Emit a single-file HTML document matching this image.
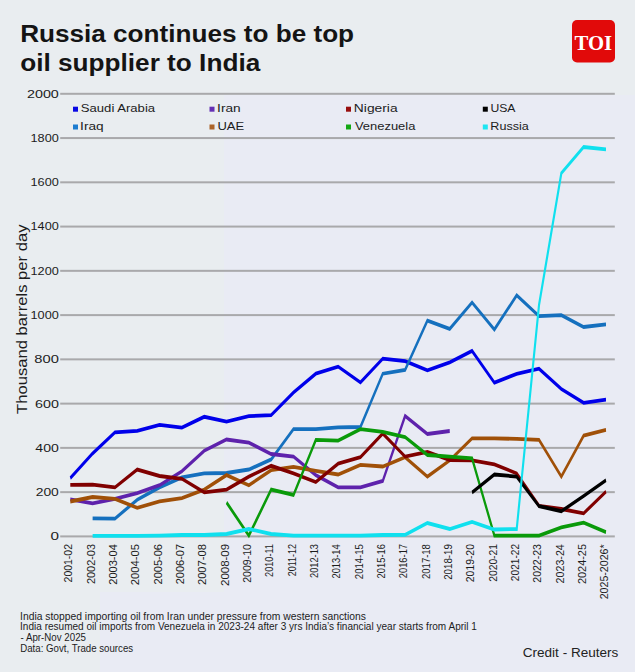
<!DOCTYPE html><html><head><meta charset="utf-8"><style>html,body{margin:0;padding:0;background:#e9edf0;}body{width:635px;height:672px;overflow:hidden;position:relative;font-family:"Liberation Sans",sans-serif;}svg{position:absolute;left:0;top:0;display:block}</style></head><body>
<svg width="635" height="672" viewBox="0 0 635 672" font-family="'Liberation Sans',sans-serif">
<rect x="0" y="0" width="635" height="672" fill="#e9ebf4"/>
<path d="M0,0H635V95H224V592H100V672H0Z" fill="#e9edf0"/>
<text x="20.15" y="41.70" font-family="'Liberation Sans',sans-serif" font-size="23.50" font-weight="bold" fill="#141414" textLength="333.92" lengthAdjust="spacingAndGlyphs">Russia continues to be top</text>
<text x="20.18" y="70.60" font-family="'Liberation Sans',sans-serif" font-size="23.50" font-weight="bold" fill="#141414" textLength="240.06" lengthAdjust="spacingAndGlyphs">oil supplier to India</text>
<rect x="572" y="20" width="43" height="42.5" rx="5" fill="#e10a0a"/>
<text x="574.48" y="49.50" font-family="'Liberation Serif',serif" font-size="22.00" font-weight="bold" fill="#ffffff" textLength="37.61" lengthAdjust="spacingAndGlyphs">TOI</text>
<rect x="60.2" y="535.40" width="554.6" height="2" fill="#a9a9ab"/>
<text x="50.40" y="540.30" font-family="'Liberation Sans',sans-serif" font-size="11.00" fill="#1c1c1c" textLength="8.49" lengthAdjust="spacingAndGlyphs">0</text>
<rect x="60.2" y="491.14" width="554.6" height="2" fill="#a9a9ab"/>
<text x="35.70" y="496.04" font-family="'Liberation Sans',sans-serif" font-size="11.00" fill="#1c1c1c" textLength="23.14" lengthAdjust="spacingAndGlyphs">200</text>
<rect x="60.2" y="446.88" width="554.6" height="2" fill="#a9a9ab"/>
<text x="35.38" y="451.78" font-family="'Liberation Sans',sans-serif" font-size="11.00" fill="#1c1c1c" textLength="23.47" lengthAdjust="spacingAndGlyphs">400</text>
<rect x="60.2" y="402.62" width="554.6" height="2" fill="#a9a9ab"/>
<text x="34.97" y="407.52" font-family="'Liberation Sans',sans-serif" font-size="11.00" fill="#1c1c1c" textLength="23.89" lengthAdjust="spacingAndGlyphs">600</text>
<rect x="60.2" y="358.36" width="554.6" height="2" fill="#a9a9ab"/>
<text x="34.36" y="363.26" font-family="'Liberation Sans',sans-serif" font-size="11.00" fill="#1c1c1c" textLength="24.51" lengthAdjust="spacingAndGlyphs">800</text>
<rect x="60.2" y="314.10" width="554.6" height="2" fill="#a9a9ab"/>
<text x="30.53" y="319.00" font-family="'Liberation Sans',sans-serif" font-size="11.00" fill="#1c1c1c" textLength="28.26" lengthAdjust="spacingAndGlyphs">1000</text>
<rect x="60.2" y="269.84" width="554.6" height="2" fill="#a9a9ab"/>
<text x="30.53" y="274.74" font-family="'Liberation Sans',sans-serif" font-size="11.00" fill="#1c1c1c" textLength="28.26" lengthAdjust="spacingAndGlyphs">1200</text>
<rect x="60.2" y="225.58" width="554.6" height="2" fill="#a9a9ab"/>
<text x="30.53" y="230.48" font-family="'Liberation Sans',sans-serif" font-size="11.00" fill="#1c1c1c" textLength="28.26" lengthAdjust="spacingAndGlyphs">1400</text>
<rect x="60.2" y="181.32" width="554.6" height="2" fill="#a9a9ab"/>
<text x="30.53" y="186.22" font-family="'Liberation Sans',sans-serif" font-size="11.00" fill="#1c1c1c" textLength="28.26" lengthAdjust="spacingAndGlyphs">1600</text>
<rect x="60.2" y="137.06" width="554.6" height="2" fill="#a9a9ab"/>
<text x="30.53" y="141.96" font-family="'Liberation Sans',sans-serif" font-size="11.00" fill="#1c1c1c" textLength="28.26" lengthAdjust="spacingAndGlyphs">1800</text>
<rect x="60.2" y="92.80" width="554.6" height="2" fill="#a9a9ab"/>
<text x="26.98" y="97.70" font-family="'Liberation Sans',sans-serif" font-size="11.00" fill="#1c1c1c" textLength="31.88" lengthAdjust="spacingAndGlyphs">2000</text>
<text transform="translate(27.10,413.97) rotate(-90)" x="0" y="0" font-size="14.70" fill="#1c1c1c" textLength="189.51" lengthAdjust="spacingAndGlyphs">Thousand barrels per day</text>
<rect x="73.0" y="106.7" width="5" height="5" fill="#0808e4"/>
<text x="80.81" y="111.75" font-family="'Liberation Sans',sans-serif" font-size="11.20" fill="#1c1c1c" textLength="74.29" lengthAdjust="spacingAndGlyphs">Saudi Arabia</text>
<rect x="209.5" y="106.7" width="5" height="5" fill="#6430b4"/>
<text x="217.14" y="111.75" font-family="'Liberation Sans',sans-serif" font-size="11.20" fill="#1c1c1c" textLength="23.55" lengthAdjust="spacingAndGlyphs">Iran</text>
<rect x="346.0" y="106.7" width="5" height="5" fill="#980e0e"/>
<text x="353.87" y="111.75" font-family="'Liberation Sans',sans-serif" font-size="11.20" fill="#1c1c1c" textLength="43.73" lengthAdjust="spacingAndGlyphs">Nigeria</text>
<rect x="482.8" y="106.7" width="5" height="5" fill="#000000"/>
<text x="490.46" y="111.75" font-family="'Liberation Sans',sans-serif" font-size="11.20" fill="#1c1c1c" textLength="25.06" lengthAdjust="spacingAndGlyphs">USA</text>
<rect x="73.0" y="124.5" width="5" height="5" fill="#1c7cd0"/>
<text x="80.14" y="129.60" font-family="'Liberation Sans',sans-serif" font-size="11.20" fill="#1c1c1c" textLength="23.53" lengthAdjust="spacingAndGlyphs">Iraq</text>
<rect x="209.5" y="124.5" width="5" height="5" fill="#ac6428"/>
<text x="217.40" y="129.60" font-family="'Liberation Sans',sans-serif" font-size="11.20" fill="#1c1c1c" textLength="26.76" lengthAdjust="spacingAndGlyphs">UAE</text>
<rect x="346.0" y="124.5" width="5" height="5" fill="#14a814"/>
<text x="354.94" y="129.60" font-family="'Liberation Sans',sans-serif" font-size="11.20" fill="#1c1c1c" textLength="60.46" lengthAdjust="spacingAndGlyphs">Venezuela</text>
<rect x="482.8" y="124.5" width="5" height="5" fill="#1ee6f2"/>
<text x="490.37" y="129.60" font-family="'Liberation Sans',sans-serif" font-size="11.20" fill="#1c1c1c" textLength="38.43" lengthAdjust="spacingAndGlyphs">Russia</text>
<text transform="translate(72.45,582.43) rotate(-90)" x="0" y="0" font-size="11.00" fill="#1c1c1c" textLength="38.45" lengthAdjust="spacingAndGlyphs">2001-02</text>
<text transform="translate(94.78,584.01) rotate(-90)" x="0" y="0" font-size="11.00" fill="#1c1c1c" textLength="39.99" lengthAdjust="spacingAndGlyphs">2002-03</text>
<text transform="translate(117.11,584.69) rotate(-90)" x="0" y="0" font-size="11.00" fill="#1c1c1c" textLength="40.51" lengthAdjust="spacingAndGlyphs">2003-04</text>
<text transform="translate(139.44,585.28) rotate(-90)" x="0" y="0" font-size="11.00" fill="#1c1c1c" textLength="41.25" lengthAdjust="spacingAndGlyphs">2004-05</text>
<text transform="translate(161.77,584.50) rotate(-90)" x="0" y="0" font-size="11.00" fill="#1c1c1c" textLength="40.49" lengthAdjust="spacingAndGlyphs">2005-06</text>
<text transform="translate(184.10,584.27) rotate(-90)" x="0" y="0" font-size="11.00" fill="#1c1c1c" textLength="40.33" lengthAdjust="spacingAndGlyphs">2006-07</text>
<text transform="translate(206.43,585.07) rotate(-90)" x="0" y="0" font-size="11.00" fill="#1c1c1c" textLength="41.06" lengthAdjust="spacingAndGlyphs">2007-08</text>
<text transform="translate(228.76,585.94) rotate(-90)" x="0" y="0" font-size="11.00" fill="#1c1c1c" textLength="41.98" lengthAdjust="spacingAndGlyphs">2008-09</text>
<text transform="translate(251.09,582.81) rotate(-90)" x="0" y="0" font-size="11.00" fill="#1c1c1c" textLength="38.72" lengthAdjust="spacingAndGlyphs">2009-10</text>
<text transform="translate(273.42,576.95) rotate(-90)" x="0" y="0" font-size="11.00" fill="#1c1c1c" textLength="32.89" lengthAdjust="spacingAndGlyphs">2010-11</text>
<text transform="translate(295.75,576.30) rotate(-90)" x="0" y="0" font-size="11.00" fill="#1c1c1c" textLength="32.24" lengthAdjust="spacingAndGlyphs">2011-12</text>
<text transform="translate(318.08,577.88) rotate(-90)" x="0" y="0" font-size="11.00" fill="#1c1c1c" textLength="33.79" lengthAdjust="spacingAndGlyphs">2012-13</text>
<text transform="translate(340.41,578.56) rotate(-90)" x="0" y="0" font-size="11.00" fill="#1c1c1c" textLength="34.33" lengthAdjust="spacingAndGlyphs">2013-14</text>
<text transform="translate(362.74,579.15) rotate(-90)" x="0" y="0" font-size="11.00" fill="#1c1c1c" textLength="35.05" lengthAdjust="spacingAndGlyphs">2014-15</text>
<text transform="translate(385.07,578.38) rotate(-90)" x="0" y="0" font-size="11.00" fill="#1c1c1c" textLength="34.29" lengthAdjust="spacingAndGlyphs">2015-16</text>
<text transform="translate(407.40,578.15) rotate(-90)" x="0" y="0" font-size="11.00" fill="#1c1c1c" textLength="34.12" lengthAdjust="spacingAndGlyphs">2016-17</text>
<text transform="translate(429.73,578.95) rotate(-90)" x="0" y="0" font-size="11.00" fill="#1c1c1c" textLength="34.86" lengthAdjust="spacingAndGlyphs">2017-18</text>
<text transform="translate(452.06,579.81) rotate(-90)" x="0" y="0" font-size="11.00" fill="#1c1c1c" textLength="35.77" lengthAdjust="spacingAndGlyphs">2018-19</text>
<text transform="translate(474.39,582.16) rotate(-90)" x="0" y="0" font-size="11.00" fill="#1c1c1c" textLength="38.07" lengthAdjust="spacingAndGlyphs">2019-20</text>
<text transform="translate(496.72,581.78) rotate(-90)" x="0" y="0" font-size="11.00" fill="#1c1c1c" textLength="37.78" lengthAdjust="spacingAndGlyphs">2020-21</text>
<text transform="translate(519.05,581.13) rotate(-90)" x="0" y="0" font-size="11.00" fill="#1c1c1c" textLength="37.14" lengthAdjust="spacingAndGlyphs">2021-22</text>
<text transform="translate(541.38,582.71) rotate(-90)" x="0" y="0" font-size="11.00" fill="#1c1c1c" textLength="38.67" lengthAdjust="spacingAndGlyphs">2022-23</text>
<text transform="translate(563.71,583.39) rotate(-90)" x="0" y="0" font-size="11.00" fill="#1c1c1c" textLength="39.20" lengthAdjust="spacingAndGlyphs">2023-24</text>
<text transform="translate(586.04,583.98) rotate(-90)" x="0" y="0" font-size="11.00" fill="#1c1c1c" textLength="39.93" lengthAdjust="spacingAndGlyphs">2024-25</text>
<text transform="translate(608.37,599.33) rotate(-90)" x="0" y="0" font-size="11.00" fill="#1c1c1c" textLength="55.00" lengthAdjust="spacingAndGlyphs">2025-2026*</text>
<g transform="scale(0.55556,1)">
<path d="M126.54,478.10 L166.72,453.50 L206.89,432.40 L247.07,430.90 L287.24,424.80 L327.42,427.60 L367.60,416.80 L407.77,421.60 L447.95,416.20 L488.12,415.20 L528.30,392.50 L568.48,373.70 L608.65,366.60 L648.83,382.40 L689.00,358.60 L729.18,361.20 L769.36,370.30 L809.53,362.30 L849.71,350.90 L889.88,382.70 L930.06,373.80 L970.24,368.70 L1010.41,389.00 L1050.59,402.90 L1090.76,399.60" fill="none" stroke="#0000ea" stroke-width="3.80" stroke-linejoin="miter" stroke-linecap="butt"/>
<path d="M166.72,518.30 L206.89,518.70 L247.07,499.70 L287.24,487.40 L327.42,477.30 L367.60,473.40 L407.77,473.00 L447.95,469.50 L488.12,459.40 L528.30,429.10 L568.48,429.10 L608.65,427.30 L648.83,427.00 L689.00,373.70 L729.18,369.90 L769.36,320.60 L809.53,328.90 L849.71,302.50 L889.88,329.50 L930.06,295.30 L970.24,316.10 L1010.41,315.10 L1050.59,327.00 L1090.76,324.40" fill="none" stroke="#1570be" stroke-width="3.80" stroke-linejoin="miter" stroke-linecap="butt"/>
<path d="M126.54,499.30 L166.72,503.30 L206.89,498.80 L247.07,493.20 L287.24,485.20 L327.42,471.20 L367.60,450.70 L407.77,439.50 L447.95,442.70 L488.12,454.00 L528.30,456.60 L568.48,475.10 L608.65,487.40 L648.83,487.40 L689.00,481.00 L729.18,416.00 L769.36,434.00 L809.53,431.00" fill="none" stroke="#5e22ac" stroke-width="3.80" stroke-linejoin="miter" stroke-linecap="butt"/>
<path d="M126.54,501.50 L166.72,497.00 L206.89,498.80 L247.07,507.90 L287.24,501.40 L327.42,498.20 L367.60,489.60 L407.77,475.10 L447.95,485.30 L488.12,470.10 L528.30,466.90 L568.48,470.80 L608.65,474.50 L648.83,464.80 L689.00,466.50 L729.18,457.20 L769.36,476.60 L809.53,460.40 L849.71,438.40 L889.88,438.40 L930.06,438.90 L970.24,439.90 L1010.41,476.60 L1050.59,435.60 L1090.76,429.80" fill="none" stroke="#a05008" stroke-width="3.80" stroke-linejoin="miter" stroke-linecap="butt"/>
<path d="M126.54,484.80 L166.72,484.60 L206.89,487.40 L247.07,469.50 L287.24,476.00 L327.42,478.80 L367.60,492.40 L407.77,489.60 L447.95,476.60 L488.12,465.80 L528.30,473.40 L568.48,482.00 L608.65,463.70 L648.83,457.20 L689.00,433.50 L729.18,456.60 L769.36,451.80 L809.53,460.00 L849.71,460.40 L889.88,464.30 L930.06,473.40 L970.24,505.80 L1010.41,509.00 L1050.59,513.30 L1090.76,491.70" fill="none" stroke="#800000" stroke-width="3.80" stroke-linejoin="miter" stroke-linecap="butt"/>
<path d="M407.77,502.50 L447.95,535.60 L488.12,489.60 L528.30,495.00 L568.48,439.90 L608.65,440.60 L648.83,429.10 L689.00,431.80 L729.18,437.10 L769.36,455.00 L809.53,456.60 L849.71,458.30 L889.88,535.60 L930.06,535.60 L970.24,535.60 L1010.41,527.30 L1050.59,522.60 L1090.76,532.10" fill="none" stroke="#0a9a0a" stroke-width="3.80" stroke-linejoin="miter" stroke-linecap="butt"/>
<path d="M849.71,492.40 L889.88,474.50 L930.06,476.60 L970.24,506.20 L1010.41,511.20 L1050.59,496.00 L1090.76,480.30" fill="none" stroke="#000000" stroke-width="3.80" stroke-linejoin="miter" stroke-linecap="butt"/>
<path d="M166.72,535.80 L206.89,535.80 L247.07,535.80 L287.24,535.60 L327.42,535.00 L367.60,535.00 L407.77,534.00 L447.95,529.00 L488.12,534.00 L528.30,535.60 L568.48,535.60 L608.65,535.60 L648.83,535.60 L689.00,535.00 L729.18,534.90 L769.36,523.00 L809.53,529.00 L849.71,522.00 L889.88,529.50 L930.06,529.00 L970.24,305.00 L1010.41,173.10 L1050.59,147.00 L1090.76,149.30" fill="none" stroke="#10e0ee" stroke-width="3.80" stroke-linejoin="miter" stroke-linecap="butt"/>
</g>
<text x="20.05" y="620.00" font-family="'Liberation Sans',sans-serif" font-size="10.30" fill="#1c1c1c" textLength="345.83" lengthAdjust="spacingAndGlyphs">India stopped importing oil from Iran under pressure from western sanctions</text>
<text x="20.08" y="630.10" font-family="'Liberation Sans',sans-serif" font-size="10.30" fill="#1c1c1c" textLength="456.81" lengthAdjust="spacingAndGlyphs">India resumed oil imports from Venezuela in 2023-24 after 3 yrs India’s financial year starts from April 1</text>
<text x="20.57" y="640.90" font-family="'Liberation Sans',sans-serif" font-size="10.30" fill="#1c1c1c" textLength="65.43" lengthAdjust="spacingAndGlyphs">- Apr-Nov 2025</text>
<text x="20.21" y="651.80" font-family="'Liberation Sans',sans-serif" font-size="10.30" fill="#1c1c1c" textLength="112.94" lengthAdjust="spacingAndGlyphs">Data: Govt, Trade sources</text>
<text x="522.71" y="657.20" font-family="'Liberation Sans',sans-serif" font-size="12.50" fill="#222222" textLength="95.68" lengthAdjust="spacingAndGlyphs">Credit - Reuters</text>
</svg></body></html>
